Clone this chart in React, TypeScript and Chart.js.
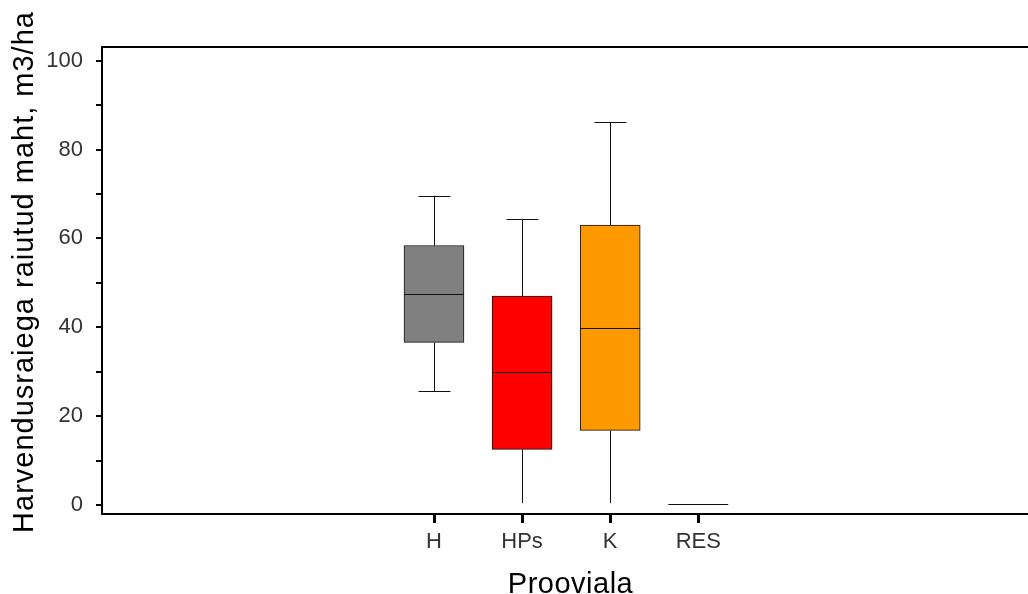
import React, { useEffect, useRef } from "react";
import { Chart, registerables } from "chart.js";

Chart.register(...registerables);

const categories = ["H", "HPs", "K", "RES"];
const whiskerLow = [25.6, 0.4, 0.4, 0.2];
const quartile1 = [36.6, 12.5, 16.8, 0.2];
const medians = [47.4, 29.9, 39.9, 0.2];
const quartile3 = [58.4, 47.0, 63.0, 0.2];
const whiskerHigh = [69.6, 64.4, 86.2, 0.2];
const capLow = [true, false, false, false];
const capHigh = [true, true, true, false];
const boxColors = ["#808080", "#ff0000", "#ff9900", "#ffffff"];
const yTickValues = [0, 10, 20, 30, 40, 50, 60, 70, 80, 90, 100];
const yLabeled = [0, 20, 40, 60, 80, 100];
const xTitle = "Prooviala";
const yTitle = "Harvendusraiega raiutud maht, m3/ha";

const FONT = "Arial, 'Liberation Sans', sans-serif";

const boxPlugin = {
  id: "boxWhiskers",
  beforeDatasetsDraw(chart: any) {
    const { ctx, scales } = chart;
    const xs = scales.x;
    const ys = scales.y;
    ctx.save();
    ctx.strokeStyle = "#111";
    ctx.lineWidth = 1;
    const capHalf = 16;
    categories.forEach((_, i) => {
      const x = Math.round(xs.getPixelForValue(i)) + 0.5;
      const yLo = ys.getPixelForValue(whiskerLow[i]);
      const yQ1 = ys.getPixelForValue(quartile1[i]);
      const yQ3 = ys.getPixelForValue(quartile3[i]);
      const yHi = ys.getPixelForValue(whiskerHigh[i]);
      ctx.beginPath();
      ctx.moveTo(x, yQ1);
      ctx.lineTo(x, yLo);
      ctx.moveTo(x, yQ3);
      ctx.lineTo(x, yHi);
      if (capLow[i]) {
        const yy = Math.round(yLo) + 0.5;
        ctx.moveTo(x - capHalf, yy);
        ctx.lineTo(x + capHalf, yy);
      }
      if (capHigh[i]) {
        const yy = Math.round(yHi) + 0.5;
        ctx.moveTo(x - capHalf, yy);
        ctx.lineTo(x + capHalf, yy);
      }
      ctx.stroke();
    });
    ctx.restore();
  },
  afterDatasetsDraw(chart: any) {
    const { ctx, scales } = chart;
    const xs = scales.x;
    const ys = scales.y;
    ctx.save();
    ctx.strokeStyle = "#111";
    ctx.lineWidth = 1;
    const half = 30;
    categories.forEach((_, i) => {
      const x = xs.getPixelForValue(i);
      const y = Math.round(ys.getPixelForValue(medians[i])) + 0.5;
      ctx.beginPath();
      ctx.moveTo(x - half, y);
      ctx.lineTo(x + half, y);
      ctx.stroke();
    });
    ctx.restore();
  },
  afterDraw(chart: any) {
    const ctx: CanvasRenderingContext2D = chart.ctx;
    const xs = chart.scales.x;
    const area = chart.chartArea;
    ctx.save();
    // top frame line
    ctx.strokeStyle = "#000";
    ctx.lineWidth = 2;
    ctx.beginPath();
    ctx.moveTo(area.left - 1, area.top);
    ctx.lineTo(area.right, area.top);
    ctx.stroke();
    // x-axis tick marks
    const axisY = Math.round(area.bottom);
    ctx.fillStyle = "#000";
    for (let i = 0; i < categories.length; i++) {
      const px = Math.round(xs.getPixelForValue(i));
      ctx.fillRect(px - 1, axisY, 3, 9);
    }
    // titles
    ctx.font = `29px ${FONT}`;
    ctx.textBaseline = "alphabetic";
    ctx.textAlign = "center";
    (ctx as any).letterSpacing = "0.5px";
    ctx.fillText(xTitle, 570.5, 593);
    (ctx as any).letterSpacing = "1px";
    ctx.translate(33, 272);
    ctx.rotate(-Math.PI / 2);
    ctx.fillText(yTitle, 0, 0);
    ctx.restore();
  },
};

export default function App() {
  const ref = useRef<HTMLCanvasElement | null>(null);

  useEffect(() => {
    if (!ref.current) return;
    const chart = new Chart(ref.current, {
      type: "bar",
      data: {
        datasets: [
          {
            data: categories.map((_, i) => ({ x: i, y: [quartile1[i], quartile3[i]] })) as any,
            backgroundColor: boxColors,
            borderColor: "#111",
            borderWidth: 1,
            borderSkipped: false,
            barThickness: 60,
          } as any,
        ],
      },
      plugins: [boxPlugin],
      options: {
        animation: false,
        responsive: false,
        layout: { padding: { top: 47, right: 0, left: 0, bottom: 0 } },
        plugins: { legend: { display: false }, tooltip: { enabled: false } },
        scales: {
          x: {
            type: "linear",
            min: -3.768,
            max: 6.742,
            offset: false,
            afterBuildTicks: (axis: any) => {
              axis.ticks = categories.map((_, i) => ({ value: i }));
            },
            afterFit: (axis: any) => {
              axis.height = 80;
            },
            ticks: {
              autoSkip: false,
              maxRotation: 0,
              padding: 15,
              color: "#333",
              font: { family: FONT, size: 22 },
              callback: (v: any) => categories[Number(v)] ?? "",
            },
            grid: {
              display: false,
              drawOnChartArea: false,
              drawTicks: false,
            },
            border: { display: true, color: "#000", width: 2 },
            title: { display: false },
          },
          y: {
            type: "linear",
            min: -2.03,
            max: 103.08,
            afterBuildTicks: (axis: any) => {
              axis.ticks = yTickValues.map((v) => ({ value: v }));
            },
            afterFit: (axis: any) => {
              axis.width = 102;
            },
            ticks: {
              autoSkip: false,
              padding: 13,
              color: "#333",
              font: { family: FONT, size: 22 },
              callback: (v: any) => (yLabeled.includes(Number(v)) ? String(v) : ""),
            },
            grid: {
              drawOnChartArea: false,
              drawTicks: true,
              tickLength: 6,
              color: "#000",
              lineWidth: 2,
            },
            border: { display: true, color: "#000", width: 2 },
            title: { display: false },
          },
        },
      },
    });
    return () => chart.destroy();
  }, []);

  return (
    <div style={{ position: "absolute", left: 0, top: 0, width: 1028, height: 594, background: "#fff" }}>
      <canvas ref={ref} width={1028} height={594} style={{ display: "block" }} />
    </div>
  );
}
